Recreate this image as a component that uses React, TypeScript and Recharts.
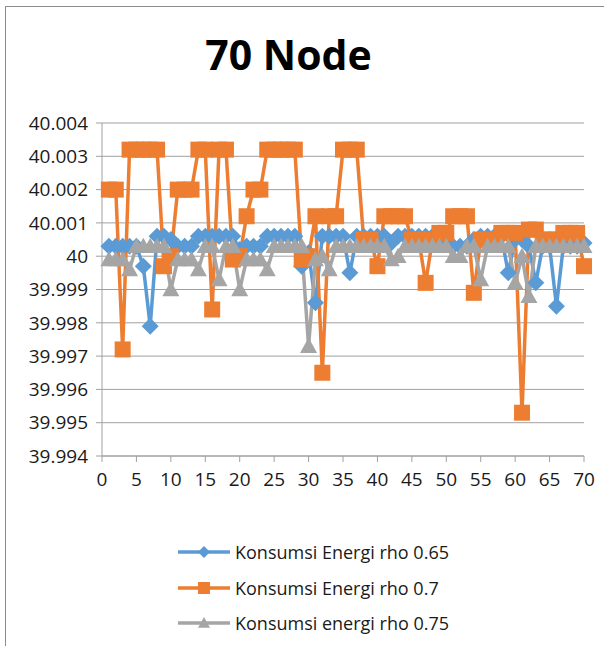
import React from "react";
import { LineChart, Line, XAxis, YAxis, CartesianGrid } from "recharts";

// node index on the x axis
const nodes = [
  1, 2, 3, 4, 5, 6, 7, 8, 9, 10, 11, 12, 13, 14, 15, 16, 17, 18, 19, 20,
  21, 22, 23, 24, 25, 26, 27, 28, 29, 30, 31, 32, 33, 34, 35, 36, 37, 38, 39, 40,
  41, 42, 43, 44, 45, 46, 47, 48, 49, 50, 51, 52, 53, 54, 55, 56, 57, 58, 59, 60,
  61, 62, 63, 64, 65, 66, 67, 68, 69, 70,
];

const rho065 = [
  40.0003, 40.0003, 40.0003, 40.0003, 40.0003, 39.9997, 39.9979, 40.0006, 40.0006, 40.0005,
  40.0003, 40.0003, 40.0003, 40.0006, 40.0006, 40.0006, 40.0006, 40.0006, 40.0006, 40.0002,
  40.0003, 40.0003, 40.0003, 40.0006, 40.0006, 40.0006, 40.0006, 40.0006, 39.9997, 40.0001,
  39.9986, 40.0006, 40.0006, 40.0006, 40.0006, 39.9995, 40.0006, 40.0006, 40.0006, 40.0006,
  40.0006, 40.0004, 40.0006, 40.0006, 40.0006, 40.0006, 40.0006, 40.0006, 40.0005, 40.0005,
  40.0003, 40.0003, 40.0003, 40.0005, 40.0006, 40.0006, 40.0006, 40.0006, 39.9995, 40.0005,
  40.0005, 40.0003, 39.9992, 40.0003, 40.0003, 39.9985, 40.0003, 40.0003, 40.0003, 40.0004,
];

const rho070 = [
  40.002, 40.002, 39.9972, 40.0032, 40.0032, 40.0032, 40.0032, 40.0032, 39.9997, 40.0,
  40.002, 40.002, 40.002, 40.0032, 40.0032, 39.9984, 40.0032, 40.0032, 39.9999, 40.0,
  40.0012, 40.002, 40.002, 40.0032, 40.0032, 40.0032, 40.0032, 40.0032, 39.9999, 40.0,
  40.0012, 39.9965, 40.0012, 40.0012, 40.0032, 40.0032, 40.0032, 40.0005, 40.0005, 39.9997,
  40.0012, 40.0012, 40.0012, 40.0012, 40.0005, 40.0005, 39.9992, 40.0005, 40.0007, 40.0007,
  40.0012, 40.0012, 40.0012, 39.9989, 40.0005, 40.0005, 40.0005, 40.0007, 40.0007, 40.0007,
  39.9953, 40.0008, 40.0008, 40.0005, 40.0005, 40.0005, 40.0007, 40.0007, 40.0007, 39.9997,
];

const rho075 = [
  39.9999, 39.9999, 39.9999, 39.9996, 40.0003, 40.0003, 40.0003, 40.0003, 40.0003, 39.999,
  39.9999, 39.9999, 39.9999, 39.9996, 40.0003, 40.0003, 39.9993, 40.0003, 40.0003, 39.999,
  39.9999, 39.9999, 39.9999, 39.9996, 40.0003, 40.0003, 40.0003, 40.0003, 40.0003, 39.9973,
  39.9999, 40.0, 39.9996, 40.0003, 40.0003, 40.0003, 40.0003, 40.0003, 40.0003, 40.0003,
  40.0003, 39.9999, 40.0, 40.0003, 40.0003, 40.0003, 40.0003, 40.0003, 40.0003, 40.0003,
  40.0, 40.0, 40.0003, 40.0003, 39.9993, 40.0003, 40.0003, 40.0003, 40.0003, 39.9992,
  40.0, 39.9988, 40.0003, 40.0003, 40.0003, 40.0003, 40.0003, 40.0003, 40.0003, 40.0003,
];

const xTicks = [0, 5, 10, 15, 20, 25, 30, 35, 40, 45, 50, 55, 60, 65, 70];
const yTicks = [
  39.994, 39.995, 39.996, 39.997, 39.998, 39.999, 40.0, 40.001, 40.002, 40.003, 40.004,
];

const seriesNames = [
  "Konsumsi Energi rho 0.65",
  "Konsumsi Energi rho 0.7",
  "Konsumsi energi rho 0.75",
];

const BLUE = "#5B9BD5";
const ORANGE = "#ED7D31";
const GRAY = "#A5A5A5";
const FONT = "'Open Sans', 'Noto Sans', sans-serif";

const data = nodes.map((n, i) => ({
  node: n,
  a: rho065[i],
  b: rho070[i],
  c: rho075[i],
}));

function marker(kind: string, cx: number, cy: number, color: string, s: number, key?: string) {
  if (kind === "diamond") {
    return (
      <polygon key={key} points={`${cx},${cy - s} ${cx + s},${cy} ${cx},${cy + s} ${cx - s},${cy}`} fill={color} />
    );
  }
  if (kind === "square") {
    return <rect key={key} x={cx - s} y={cy - s} width={s * 2} height={s * 2} fill={color} />;
  }
  return (
    <polygon
      key={key}
      points={`${cx},${cy - s} ${cx + s},${cy + s * 0.8} ${cx - s},${cy + s * 0.8}`}
      fill={color}
    />
  );
}

const makeDot = (kind: string, color: string, s: number) => (p: any) => {
  if (p.cx == null || p.cy == null) return <g key={`e-${kind}-${p.index}`} />;
  return marker(kind, p.cx, p.cy, color, s, `${kind}-${p.index}`);
};

const fmtY = (v: number) => String(parseFloat(v.toFixed(3)));

const legendItems = [
  { name: seriesNames[0], color: BLUE, kind: "diamond" },
  { name: seriesNames[1], color: ORANGE, kind: "square" },
  { name: seriesNames[2], color: GRAY, kind: "triangle" },
];

export default function App() {
  return (
    <div style={{ position: "absolute", left: 0, top: 0, width: 604, height: 646, background: "#fff", fontFamily: FONT }}>
      <div
        style={{
          position: "absolute",
          left: 5,
          top: 6,
          width: 599,
          height: 640,
          borderTop: "1px solid #8c8c8c",
          borderLeft: "1px solid #8c8c8c",
          boxSizing: "border-box",
        }}
      />
      <div
        style={{
          position: "absolute",
          left: 0,
          top: 24,
          width: 577,
          textAlign: "center",
          fontSize: 41,
          fontWeight: 700,
          color: "#000",
          lineHeight: "60px",
        }}
      >
        70 Node
      </div>
      <div style={{ position: "absolute", left: 0, top: 0 }}>
        <LineChart width={604} height={646} data={data} margin={{ top: 123, right: 20, bottom: 160, left: 6 }}>
          <CartesianGrid vertical={false} stroke="#a0a0a0" strokeWidth={1} />
          <XAxis
            dataKey="node"
            type="number"
            domain={[0, 70]}
            ticks={xTicks}
            interval={0}
            height={30}
            stroke="#a0a0a0"
            tickSize={6}
            tickMargin={11}
            tick={{ fill: "#1a1a1a", fontSize: 19, fontFamily: FONT }}
          />
          <YAxis
            type="number"
            domain={[39.994, 40.004]}
            ticks={yTicks}
            interval={0}
            allowDataOverflow
            width={96}
            stroke="#a0a0a0"
            tickSize={6}
            tickMargin={8}
            tickFormatter={fmtY}
            tick={{ fill: "#1a1a1a", fontSize: 19, fontFamily: FONT }}
          />
          <Line
            dataKey="a"
            name={seriesNames[0]}
            stroke={BLUE}
            strokeWidth={3.5}
            dot={makeDot("diamond", BLUE, 8.5)}
            activeDot={false}
            isAnimationActive={false}
          />
          <Line
            dataKey="b"
            name={seriesNames[1]}
            stroke={ORANGE}
            strokeWidth={3.5}
            dot={makeDot("square", ORANGE, 8)}
            activeDot={false}
            isAnimationActive={false}
          />
          <Line
            dataKey="c"
            name={seriesNames[2]}
            stroke={GRAY}
            strokeWidth={3.5}
            dot={makeDot("triangle", GRAY, 8.5)}
            activeDot={false}
            isAnimationActive={false}
          />
        </LineChart>
      </div>
      {legendItems.map((it, i) => (
        <div
          key={it.name}
          style={{ position: "absolute", left: 176, top: 540 + i * 35.5, height: 24, display: "flex", alignItems: "center" }}
        >
          <svg width={56} height={24} style={{ display: "block" }}>
            <line x1={2} y1={12} x2={54} y2={12} stroke={it.color} strokeWidth={3.5} />
            {marker(it.kind, 28, 12, it.color, 6)}
          </svg>
          <span style={{ marginLeft: 3, fontSize: 18, color: "#1a1a1a", whiteSpace: "nowrap" }}>{it.name}</span>
        </div>
      ))}
    </div>
  );
}
